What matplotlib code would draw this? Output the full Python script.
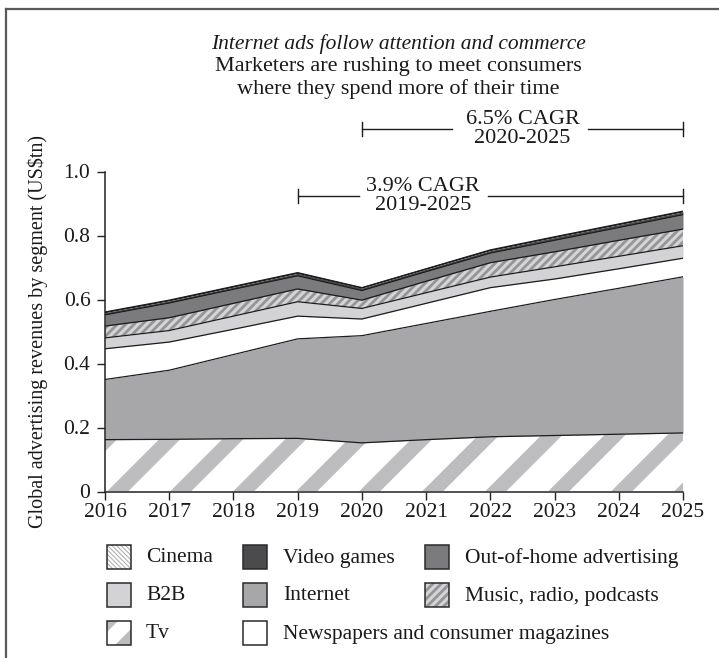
import matplotlib
matplotlib.use("Agg")
import matplotlib.pyplot as plt
import numpy as np
from matplotlib.patches import Rectangle, Polygon
from matplotlib.collections import PolyCollection
from matplotlib.lines import Line2D

# ---- data (US$ trillions, stacked bottom to top) ----
years = [2016, 2017, 2018, 2019, 2020, 2021, 2022, 2023, 2024, 2025]
tv = [0.162, 0.163, 0.165, 0.166, 0.152, 0.162, 0.171, 0.175, 0.179, 0.183]
internet = [0.188, 0.216, 0.263, 0.311, 0.335, 0.363, 0.392, 0.425, 0.456, 0.488]
newspapers = [0.096, 0.088, 0.079, 0.071, 0.052, 0.063, 0.074, 0.064, 0.061, 0.058]
b2b = [0.034, 0.036, 0.041, 0.045, 0.033, 0.033, 0.033, 0.038, 0.039, 0.039]
music = [0.037, 0.040, 0.040, 0.040, 0.026, 0.036, 0.045, 0.047, 0.050, 0.052]
out_of_home = [0.035, 0.046, 0.044, 0.041, 0.030, 0.030, 0.030, 0.036, 0.040, 0.045]
video_games = [0.007, 0.007, 0.007, 0.008, 0.008, 0.008, 0.008, 0.009, 0.009, 0.009]
cinema = [0.002, 0.002, 0.002, 0.002, 0.001, 0.001, 0.002, 0.002, 0.002, 0.002]

y_ticks = [0, 0.2, 0.4, 0.6, 0.8, 1.0]
y_tick_labels = ["0", "0.2", "0.4", "0.6", "0.8", "1.0"]

# ---- style ----
plt.rcParams["font.family"] = ["Liberation Serif", "DejaVu Serif"]
MUSIC_FACE = "#d4d4d6"
MUSIC_HATCH = "#959598"
plt.rcParams["hatch.linewidth"] = 2.0
plt.rcParams["hatch.color"] = MUSIC_HATCH

C_TV_STRIPE = "#bdbdc0"
C_INTERNET = "#a7a7aa"
C_NEWS = "#ffffff"
C_B2B = "#d3d3d5"
C_OOH = "#7b7b7e"
C_VG = "#4b4b4d"
C_CINEMA = "#f2f2f2"
C_LINE = "#1c1c1c"
C_TEXT = "#1a1a1a"

W, H = 719, 658
fig = plt.figure(figsize=(W / 100, H / 100), dpi=100)


def fx(px):
    return px / W


def fy(py):
    return 1 - py / H


AX_L, AX_R, AX_T, AX_B = 105, 683, 171.5, 491.5
ax = fig.add_axes([fx(AX_L), fy(AX_B), (AX_R - AX_L) / W, (AX_B - AX_T) / H])
ax.set_xlim(2016, 2025)
ax.set_ylim(0, 1.0)

layers = [
    ("Tv", tv, "#ffffff", None),
    ("Internet", internet, C_INTERNET, None),
    ("Newspapers and consumer magazines", newspapers, C_NEWS, None),
    ("B2B", b2b, C_B2B, None),
    ("Music, radio, podcasts", music, MUSIC_FACE, "////"),
    ("Out-of-home advertising", out_of_home, C_OOH, None),
    ("Video games", video_games, C_VG, None),
    ("Cinema", cinema, C_CINEMA, None),
]

base = np.zeros(len(years))
polys = {}
for name, vals, face, hatch in layers:
    top = base + np.asarray(vals)
    p = ax.fill_between(years, base, top, facecolor=face,
                        edgecolor=MUSIC_HATCH if hatch else face,
                        linewidth=0, hatch=hatch, zorder=2)
    polys[name] = p
    ax.plot(years, top, color=C_LINE, lw=0.9, zorder=4,
            solid_joinstyle="round")
    base = top

# wide diagonal stripes filling the Tv band
AW, AH = AX_R - AX_L, AX_B - AX_T
period, width, phase = 63.0, 21.0, 2.0
stripes = []
for k in range(-8, 12):
    x0 = phase + k * period
    pts = [(x0, 0), (x0 + width, 0), (x0 + width + AH, AH), (x0 + AH, AH)]
    stripes.append([(px / AW, py / AH) for px, py in pts])
sc = PolyCollection(stripes, facecolor=C_TV_STRIPE, edgecolor="none",
                    transform=ax.transAxes, zorder=3)
ax.add_collection(sc, autolim=False)
sc.set_clip_path(polys["Tv"].get_paths()[0], ax.transData)

# ---- axes styling ----
for s in ["top", "right"]:
    ax.spines[s].set_visible(False)
for s in ["left", "bottom"]:
    ax.spines[s].set_color("#222222")
    ax.spines[s].set_linewidth(1.1)
    ax.spines[s].set_zorder(5)
ax.set_xticks(years)
ax.set_xticklabels([str(y) for y in years])
ax.set_yticks(y_ticks)
ax.set_yticklabels(y_tick_labels)
ax.tick_params(axis="both", direction="out", length=5.5, width=1.0,
               color="#222222", labelsize=15.5, labelcolor=C_TEXT)
ax.tick_params(axis="x", pad=3)
ax.tick_params(axis="y", pad=5)
ax.set_facecolor("none")

fig.text(fx(38), fy(332), "Global advertising revenues by segment (US$tn)",
         rotation=90, ha="center", va="center", fontsize=14.5, color=C_TEXT)

# ---- headline ----
fig.text(fx(398), fy(44), "Internet ads follow attention and commerce",
         ha="center", va="center", fontsize=15.5, style="italic", color=C_TEXT)
fig.text(fx(398), fy(67), "Marketers are rushing to meet consumers",
         ha="center", va="center", fontsize=16, color=C_TEXT)
fig.text(fx(398), fy(89), "where they spend more of their time",
         ha="center", va="center", fontsize=16, color=C_TEXT)


# ---- CAGR brackets ----
def bracket(x0, x1, gap0, gap1, y, label, xc):
    kw = dict(color=C_LINE, lw=1.0, clip_on=False, zorder=6)
    ax.plot([x0, gap0], [y, y], **kw)
    ax.plot([gap1, x1], [y, y], **kw)
    for xe in (x0, x1):
        ax.plot([xe, xe], [y - 0.022, y + 0.022], **kw)
    ax.text(xc, y, label, ha="center", va="center", fontsize=16,
            color=C_TEXT, linespacing=1.0, clip_on=False)


bracket(2020, 2025, 2021.40, 2023.52, 1.133, "6.5% CAGR\n2020-2025", 2022.5)
bracket(2019, 2025, 2019.95, 2021.96, 0.923, "3.9% CAGR\n2019-2025", 2020.95)

# ---- legend ----
BOX = 24
cols = [(107, 146), (243, 283), (425, 465)]
rows = [557, 595, 633]


def box_rect(x, yc, **kw):
    r = Rectangle((fx(x), fy(yc + BOX / 2)), BOX / W, BOX / H,
                  transform=fig.transFigure, **kw)
    fig.add_artist(r)
    return r


def box_poly(x, yc, pts, clip, **kw):
    # pts in box-local pixels, y up from the box bottom
    p = Polygon([(fx(x + u), fy(yc + BOX / 2 - v)) for u, v in pts],
                closed=True, transform=fig.transFigure, **kw)
    fig.add_artist(p)
    p.set_clip_path(clip)
    return p


def box_edge(x, yc):
    box_rect(x, yc, facecolor="none", edgecolor="#2a2a2a", lw=1.1, zorder=5)


def legend_entry(ci, ri, label, kind):
    x, tx = cols[ci]
    yc = rows[ri]
    if kind == "cinema":
        r = box_rect(x, yc, facecolor="white", edgecolor="none", zorder=3)
        for k in range(-7, 8):
            u0 = k * 4.5
            ln = Line2D([fx(x + u0), fx(x + u0 + BOX)],
                        [fy(yc - BOX / 2), fy(yc + BOX / 2)],
                        transform=fig.transFigure, color="#b0b0b3", lw=0.8,
                        zorder=4)
            fig.add_artist(ln)
            ln.set_clip_path(r)
    elif kind == "tv":
        r = box_rect(x, yc, facecolor="white", edgecolor="none", zorder=3)
        box_poly(x, yc, [(0, 24), (11, 24), (0, 13)], r,
                 facecolor=C_TV_STRIPE, edgecolor="none", zorder=4)
        box_poly(x, yc, [(24, 0), (24, 16), (8, 0)], r,
                 facecolor=C_TV_STRIPE, edgecolor="none", zorder=4)
    elif kind == "music":
        box_rect(x, yc, facecolor=MUSIC_FACE, edgecolor=MUSIC_HATCH, lw=0,
                 hatch="////", zorder=3)
    else:
        box_rect(x, yc, facecolor=kind, edgecolor="none", zorder=3)
    box_edge(x, yc)
    fig.text(fx(tx), fy(yc + 1), label, ha="left", va="center",
             fontsize=15.5, color=C_TEXT)


legend_entry(0, 0, "Cinema", "cinema")
legend_entry(1, 0, "Video games", C_VG)
legend_entry(2, 0, "Out-of-home advertising", C_OOH)
legend_entry(0, 1, "B2B", C_B2B)
legend_entry(1, 1, "Internet", C_INTERNET)
legend_entry(2, 1, "Music, radio, podcasts", "music")
legend_entry(0, 2, "Tv", "tv")
legend_entry(1, 2, "Newspapers and consumer magazines", C_NEWS)

# ---- outer frame (left and top edges) ----
fc = "#5a5a5a"
fig.add_artist(Line2D([fx(6), fx(6)], [0, fy(9)], transform=fig.transFigure,
                      color=fc, lw=1.6))
fig.add_artist(Line2D([fx(6), 1], [fy(9), fy(9)], transform=fig.transFigure,
                      color=fc, lw=1.6))

fig.savefig("out.png", dpi=100, facecolor="white")
